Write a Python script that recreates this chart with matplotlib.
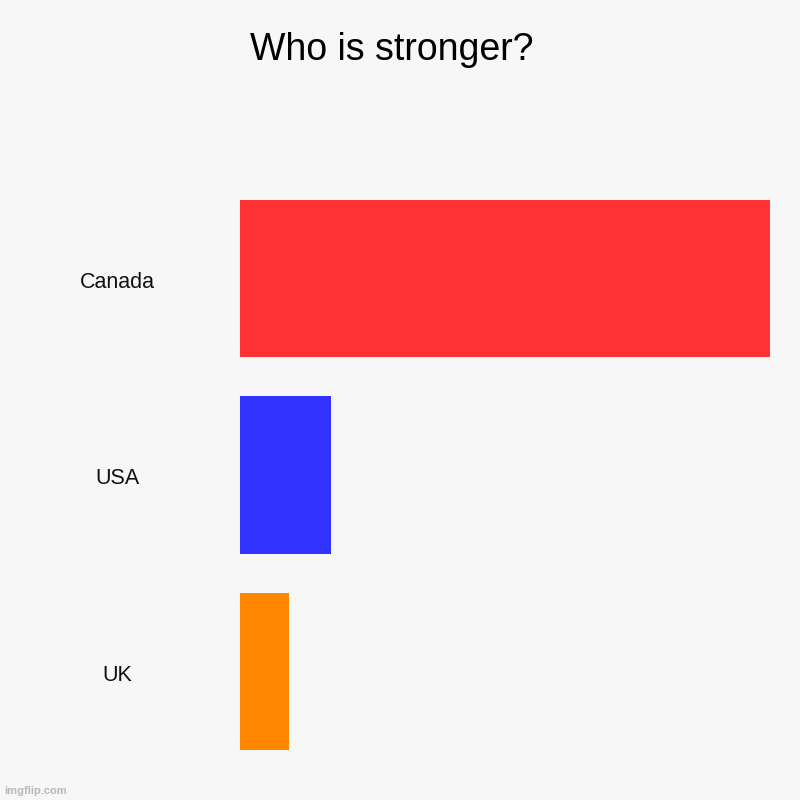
import matplotlib
matplotlib.use("Agg")
import matplotlib.pyplot as plt

# chart data
categories = ["Canada", "USA", "UK"]
values = [100, 17.2, 9.2]
colors = ["#ff3333", "#3333ff", "#ff8800"]
title = "Who is stronger?"

plt.rcParams["font.family"] = ["Liberation Sans", "DejaVu Sans"]

bg = "#f7f7f7"
fig = plt.figure(figsize=(8, 8), dpi=100, facecolor=bg)
# axes box in pixels: x 240..770, y 200..750
ax = fig.add_axes([240 / 800, 50 / 800, 530 / 800, 550 / 800])
ax.set_facecolor(bg)

pos = list(range(len(categories)))
ax.barh(pos, values, height=0.8, color=colors)
ax.set_xlim(0, max(values))
ax.set_ylim(len(categories) - 0.6, -0.4)

for s in ax.spines.values():
    s.set_visible(False)
ax.set_xticks([])
ax.set_yticks([])

# category labels, centred in left margin (slightly below bar centre)
for i, name in enumerate(categories):
    ax.text(-123 / 530 * max(values), i + 0.02, name, ha="center", va="center",
            fontsize=15.5, color="#111111")

fig.text(0.49, 1 - 50 / 800, title, ha="center", va="center",
         fontsize=27, color="#000000")

fig.text(4 / 800, 1 - 791 / 800, "imgflip.com", ha="left", va="center",
         fontsize=8, fontweight="bold", color="#b8b8b8")

fig.savefig("out.png", dpi=100, facecolor=bg)
